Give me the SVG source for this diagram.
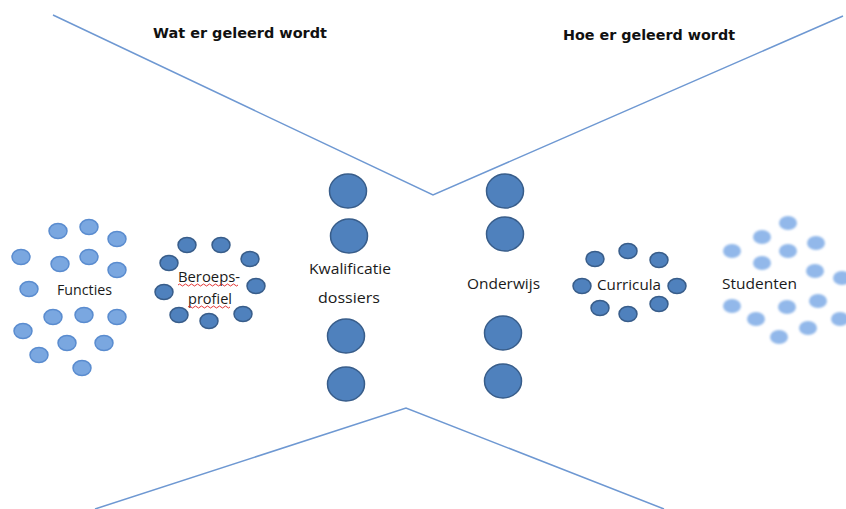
<svg xmlns="http://www.w3.org/2000/svg" width="846" height="509" viewBox="0 0 846 509">
  <style>
    .bg { fill: #ffffff; }
    .funnel { fill: none; stroke: #6e98d2; stroke-width: 1.5; }
    .title { font-family: "DejaVu Sans", "Liberation Sans", sans-serif; font-weight: bold; font-size: 14px; fill: #111111; }
    .label { font-family: "Open Sans", "Liberation Sans", sans-serif; font-size: 14.5px; fill: #1a1a1a; }
    .light { fill: #7aa7e0; stroke: #5a8ccf; stroke-width: 1.5; }
    .dark { fill: #4f81bd; stroke: #385d8a; stroke-width: 1.5; }
    .soft { fill: #92b8ea; filter: url(#haze); }
    .squiggle { fill: none; stroke: #e02020; stroke-width: 0.9; }
  </style>
  <defs>
    <filter id="haze" x="-50%" y="-50%" width="200%" height="200%">
      <feGaussianBlur stdDeviation="1.3"/>
    </filter>
  </defs>

  <rect class="bg" x="0" y="0" width="846" height="509"/>

  <!-- funnel outlines -->
  <g id="connectors">
    <polyline class="funnel" points="53,15 433,195 843,16"/>
    <polyline class="funnel" points="95,509 406,408 664,509"/>
  </g>

  <!-- headings -->
  <g id="title-wat">
    <text class="title" x="153" y="38" textLength="174" lengthAdjust="spacingAndGlyphs">Wat er geleerd wordt</text>
  </g>
  <g id="title-hoe">
    <text class="title" x="563" y="40" textLength="172" lengthAdjust="spacingAndGlyphs">Hoe er geleerd wordt</text>
  </g>

  <!-- Functies cluster -->
  <g id="functies">
    <ellipse class="light" cx="58" cy="231" rx="9" ry="7.5"/>
    <ellipse class="light" cx="89" cy="227" rx="9" ry="7.5"/>
    <ellipse class="light" cx="117" cy="239" rx="9" ry="7.5"/>
    <ellipse class="light" cx="21" cy="257" rx="9" ry="7.5"/>
    <ellipse class="light" cx="60" cy="264" rx="9" ry="7.5"/>
    <ellipse class="light" cx="89" cy="257" rx="9" ry="7.5"/>
    <ellipse class="light" cx="117" cy="270" rx="9" ry="7.5"/>
    <ellipse class="light" cx="29" cy="289" rx="9" ry="7.5"/>
    <ellipse class="light" cx="53" cy="317" rx="9" ry="7.5"/>
    <ellipse class="light" cx="84" cy="315" rx="9" ry="7.5"/>
    <ellipse class="light" cx="117" cy="317" rx="9" ry="7.5"/>
    <ellipse class="light" cx="23" cy="331" rx="9" ry="7.5"/>
    <ellipse class="light" cx="67" cy="343" rx="9" ry="7.5"/>
    <ellipse class="light" cx="104" cy="343" rx="9" ry="7.5"/>
    <ellipse class="light" cx="39" cy="355" rx="9" ry="7.5"/>
    <ellipse class="light" cx="82" cy="368" rx="9" ry="7.5"/>
    <text class="label" x="57" y="295" textLength="55" lengthAdjust="spacingAndGlyphs">Functies</text>
  </g>

  <!-- Beroepsprofiel cluster -->
  <g id="beroepsprofiel">
    <ellipse class="dark" cx="187" cy="245" rx="9" ry="7.5"/>
    <ellipse class="dark" cx="221" cy="245" rx="9" ry="7.5"/>
    <ellipse class="dark" cx="250" cy="259" rx="9" ry="7.5"/>
    <ellipse class="dark" cx="169" cy="263" rx="9" ry="7.5"/>
    <ellipse class="dark" cx="256" cy="286" rx="9" ry="7.5"/>
    <ellipse class="dark" cx="164" cy="292" rx="9" ry="7.5"/>
    <ellipse class="dark" cx="179" cy="315" rx="9" ry="7.5"/>
    <ellipse class="dark" cx="209" cy="321" rx="9" ry="7.5"/>
    <ellipse class="dark" cx="243" cy="314" rx="9" ry="7.5"/>
    <text class="label" x="178" y="282" textLength="62" lengthAdjust="spacingAndGlyphs">Beroeps-</text>
    <text class="label" x="188" y="304" textLength="44" lengthAdjust="spacingAndGlyphs">profiel</text>
    <path class="squiggle" d="M178,285 q1.5,-2 3,0 t3,0 t3,0 t3,0 t3,0 t3,0 t3,0 t3,0 t3,0 t3,0 t3,0 t3,0 t3,0 t3,0 t3,0 t3,0 t3,0 t3,0 t3,0 t3,0"/>
    <path class="squiggle" d="M188,307 q1.5,-2 3,0 t3,0 t3,0 t3,0 t3,0 t3,0 t3,0 t3,0 t3,0 t3,0 t3,0 t3,0 t3,0 t3,0"/>
  </g>

  <!-- Kwalificatiedossiers column -->
  <g id="kwalificatiedossiers">
    <ellipse class="dark" cx="348" cy="191" rx="18.5" ry="17"/>
    <ellipse class="dark" cx="349" cy="236" rx="18.5" ry="17"/>
    <ellipse class="dark" cx="346" cy="336" rx="18.5" ry="17"/>
    <ellipse class="dark" cx="346" cy="384" rx="18.5" ry="17"/>
    <text class="label" x="309" y="274" textLength="82" lengthAdjust="spacingAndGlyphs">Kwalificatie</text>
    <text class="label" x="318" y="303" textLength="62" lengthAdjust="spacingAndGlyphs">dossiers</text>
  </g>

  <!-- Onderwijs column -->
  <g id="onderwijs">
    <ellipse class="dark" cx="505" cy="191" rx="18.5" ry="17"/>
    <ellipse class="dark" cx="505" cy="234" rx="18.5" ry="17"/>
    <ellipse class="dark" cx="503" cy="333" rx="18.5" ry="17"/>
    <ellipse class="dark" cx="503" cy="381" rx="18.5" ry="17"/>
    <text class="label" x="467" y="289" textLength="73" lengthAdjust="spacingAndGlyphs">Onderwijs</text>
  </g>

  <!-- Curricula cluster -->
  <g id="curricula">
    <ellipse class="dark" cx="628" cy="251" rx="9" ry="7.5"/>
    <ellipse class="dark" cx="595" cy="259" rx="9" ry="7.5"/>
    <ellipse class="dark" cx="659" cy="260" rx="9" ry="7.5"/>
    <ellipse class="dark" cx="582" cy="286" rx="9" ry="7.5"/>
    <ellipse class="dark" cx="677" cy="286" rx="9" ry="7.5"/>
    <ellipse class="dark" cx="600" cy="308" rx="9" ry="7.5"/>
    <ellipse class="dark" cx="628" cy="314" rx="9" ry="7.5"/>
    <ellipse class="dark" cx="659" cy="304" rx="9" ry="7.5"/>
    <text class="label" x="597" y="290" textLength="64" lengthAdjust="spacingAndGlyphs">Curricula</text>
  </g>

  <!-- Studenten cluster -->
  <g id="studenten">
    <ellipse class="soft" cx="788" cy="223" rx="9" ry="7"/>
    <ellipse class="soft" cx="762" cy="237" rx="9" ry="7"/>
    <ellipse class="soft" cx="816" cy="243" rx="9" ry="7"/>
    <ellipse class="soft" cx="732" cy="251" rx="9" ry="7"/>
    <ellipse class="soft" cx="788" cy="251" rx="9" ry="7"/>
    <ellipse class="soft" cx="762" cy="263" rx="9" ry="7"/>
    <ellipse class="soft" cx="815" cy="271" rx="9" ry="7"/>
    <ellipse class="soft" cx="842" cy="278" rx="9" ry="7"/>
    <ellipse class="soft" cx="732" cy="306" rx="9" ry="7"/>
    <ellipse class="soft" cx="787" cy="307" rx="9" ry="7"/>
    <ellipse class="soft" cx="818" cy="301" rx="9" ry="7"/>
    <ellipse class="soft" cx="756" cy="319" rx="9" ry="7"/>
    <ellipse class="soft" cx="840" cy="319" rx="9" ry="7"/>
    <ellipse class="soft" cx="808" cy="328" rx="9" ry="7"/>
    <ellipse class="soft" cx="779" cy="337" rx="9" ry="7"/>
    <text class="label" x="722" y="289" textLength="75" lengthAdjust="spacingAndGlyphs">Studenten</text>
  </g>
</svg>
